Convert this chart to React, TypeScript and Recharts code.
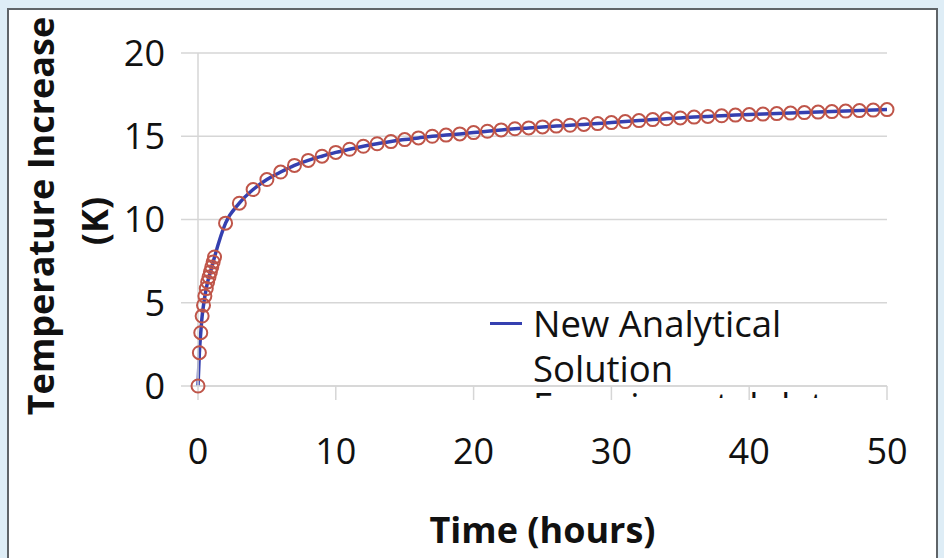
import React from 'react';
import { LineChart, Line, XAxis, YAxis, CartesianGrid, Legend, Label } from 'recharts';

// time (hours) and temperature rise (K)
const hours = [
  0, 0.1, 0.2, 0.3, 0.4, 0.5, 0.6, 0.7, 0.8, 0.9, 1, 1.1, 1.2,
  2, 3, 4, 5, 6, 7, 8, 9, 10, 11, 12, 13, 14, 15, 16, 17, 18, 19, 20,
  21, 22, 23, 24, 25, 26, 27, 28, 29, 30, 31, 32, 33, 34, 35, 36, 37, 38, 39, 40,
  41, 42, 43, 44, 45, 46, 47, 48, 49, 50,
];
const temperatureRise = [
  0, 2.0, 3.2, 4.2, 4.85, 5.4, 5.85, 6.25, 6.55, 6.85, 7.15, 7.45, 7.75,
  9.78, 10.98, 11.8, 12.4, 12.85, 13.25, 13.55, 13.8, 14.03, 14.22, 14.4, 14.55, 14.68, 14.8, 14.9, 15.0, 15.07, 15.14, 15.22,
  15.3, 15.38, 15.45, 15.5, 15.56, 15.61, 15.66, 15.71, 15.76, 15.82, 15.88, 15.94, 16.0, 16.05, 16.1, 16.15, 16.19, 16.23, 16.27, 16.3,
  16.33, 16.36, 16.39, 16.42, 16.45, 16.48, 16.51, 16.54, 16.57, 16.6,
];
const xTicks = [0, 10, 20, 30, 40, 50];
const yTicks = [0, 5, 10, 15, 20];
const seriesNames = ['New Analytical Solution', 'Experimental data'];

const data = hours.map((t, i) => ({ t, analytical: temperatureRise[i], experimental: temperatureRise[i] }));

const FONT = '"Open Sans", sans-serif';
const GRID = '#d6d6d6';
const LINE_BLUE = '#3540b0';
const MARKER_RED = '#bf5549';

const YTitle = () => (
  <g fontFamily={FONT} fontWeight={700} fontSize={36} fill="#111">
    <text transform="translate(54,216) rotate(-90)" textAnchor="middle">Temperature Increase</text>
    <text transform="translate(108,221) rotate(-90)" textAnchor="middle">(K)</text>
  </g>
);

// legend is squeezed by the plot bottom, so the second entry only peeks out
const LegendBox = () => (
  <div style={{ position: 'relative', height: 97, overflow: 'hidden', fontFamily: FONT, fontSize: 36.5, lineHeight: '45px', color: '#111' }}>
    <div style={{ position: 'absolute', left: 0, top: 0, display: 'flex' }}>
      <span style={{ width: 32, height: 3, background: LINE_BLUE, marginTop: 21, marginRight: 11, flexShrink: 0 }} />
      <span style={{ width: 310 }}>{seriesNames[0]}</span>
    </div>
    <div style={{ position: 'absolute', left: 0, top: 82, display: 'flex', whiteSpace: 'nowrap' }}>
      <span style={{ width: 32, marginRight: 11, flexShrink: 0 }} />
      <span>{seriesNames[1]}</span>
    </div>
  </div>
);

export default function App() {
  return (
    <div style={{ position: 'absolute', left: 0, top: 0, width: 944, height: 558, background: '#deedf6', overflow: 'hidden' }}>
      <div style={{ position: 'absolute', left: 7, top: 8, width: 927, height: 570, background: '#fff', border: '2px solid #5f6468' }} />
      <div style={{ position: 'absolute', left: 0, top: 0 }}>
        <LineChart width={944} height={558} data={data} margin={{ top: 53, right: 57, bottom: 72, left: 0 }}>
          <CartesianGrid vertical={false} stroke={GRID} strokeWidth={1.5} />
          <XAxis
            type="number"
            dataKey="t"
            domain={[0, 50]}
            ticks={xTicks}
            height={100}
            tickSize={14}
            tickMargin={38}
            stroke={GRID}
            strokeWidth={1.5}
            tick={{ fontFamily: FONT, fontSize: 36, fill: '#111' }}
          >
            <Label
              value="Time (hours)"
              position="bottom"
              offset={31}
              style={{ fontFamily: FONT, fontWeight: 700, fontSize: 36, fill: '#111' }}
            />
          </XAxis>
          <YAxis
            type="number"
            domain={[0, 20]}
            ticks={yTicks}
            width={198}
            tickSize={17}
            tickMargin={16}
            stroke={GRID}
            strokeWidth={1.5}
            tick={{ fontFamily: FONT, fontSize: 36, fill: '#111' }}
          >
            <Label content={<YTitle />} />
          </YAxis>
          <Legend
            layout="vertical"
            align="center"
            verticalAlign="middle"
            content={<LegendBox />}
            wrapperStyle={{ left: 490, top: 301, width: 400, height: 97 }}
          />
          <Line
            name={seriesNames[1]}
            dataKey="experimental"
            stroke="none"
            dot={{ r: 6.5, stroke: MARKER_RED, strokeWidth: 2, fill: 'none' }}
            legendType="circle"
            isAnimationActive={false}
          />
          <Line
            name={seriesNames[0]}
            type="monotone"
            dataKey="analytical"
            stroke={LINE_BLUE}
            strokeWidth={3.5}
            dot={false}
            isAnimationActive={false}
          />
        </LineChart>
      </div>
    </div>
  );
}
